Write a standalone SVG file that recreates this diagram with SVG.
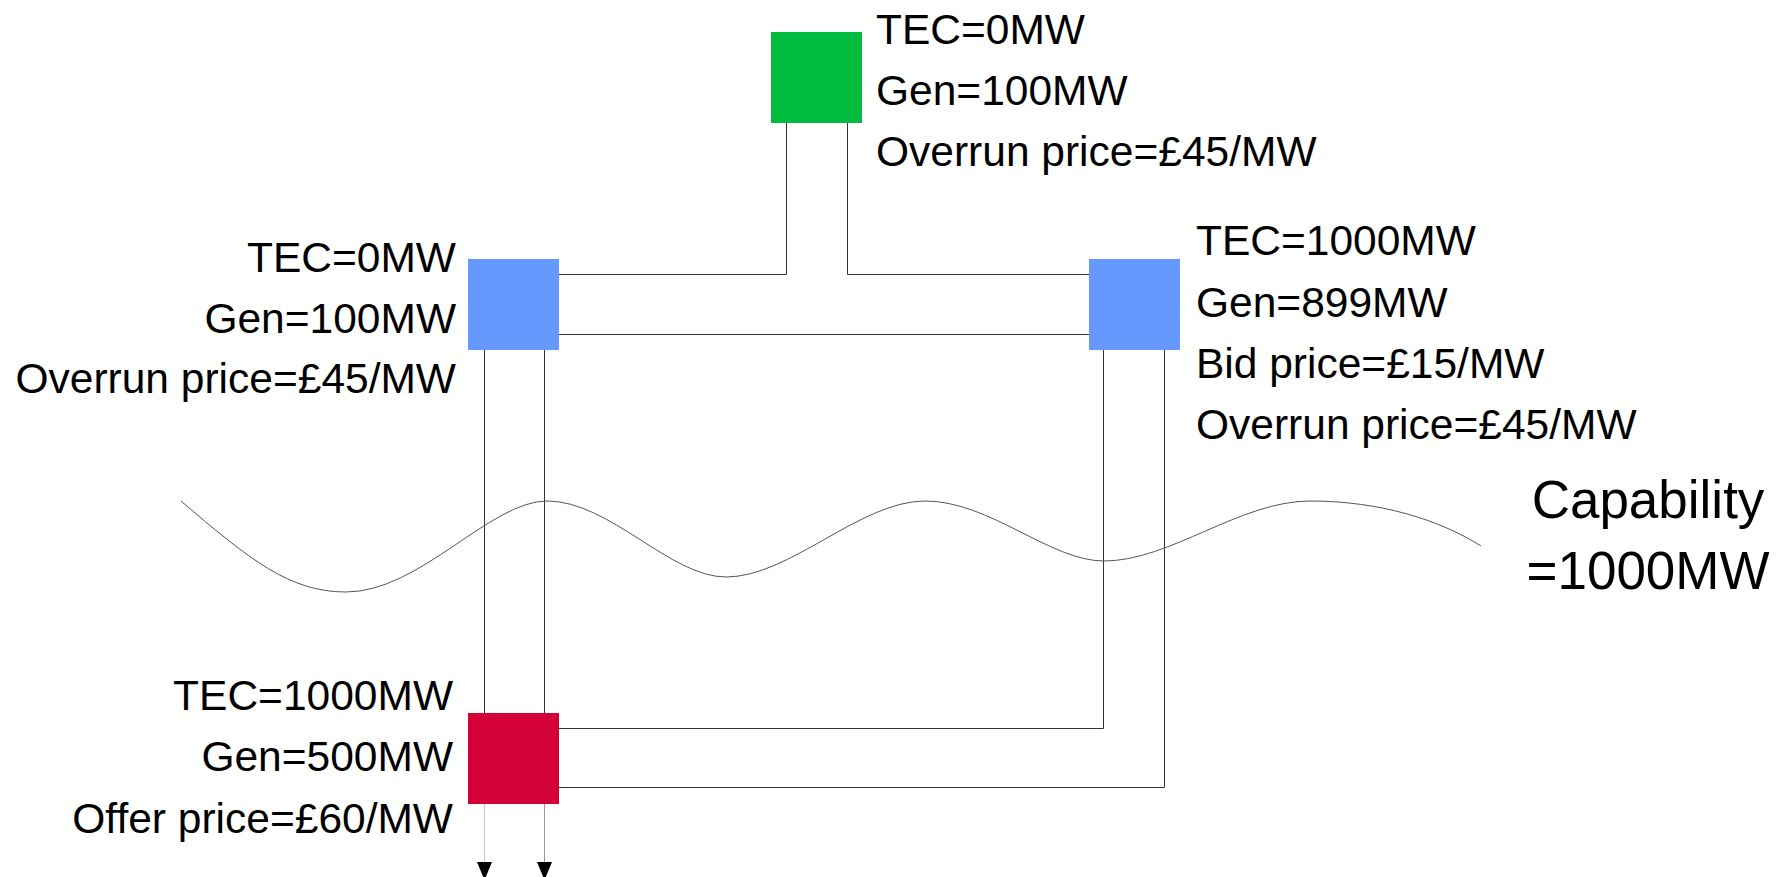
<svg xmlns="http://www.w3.org/2000/svg" width="1782" height="877" viewBox="0 0 1782 877">
<style>
.t{font-family:"Liberation Sans",Arial,sans-serif;font-size:42.5px;fill:#000}
.big{font-family:"Liberation Sans",Arial,sans-serif;font-size:53px;fill:#000}
.ln{fill:none;stroke:#333;stroke-width:1}
.end{text-anchor:end}
.mid{text-anchor:middle}
</style>
<rect width="1782" height="877" fill="#fff"/>
<g id="connectors">
<polyline class="ln" points="786.5,122 786.5,274.5 559,274.5"/>
<polyline class="ln" points="847.5,122 847.5,274.5 1089,274.5"/>
<line class="ln" x1="559" y1="334.5" x2="1089" y2="334.5"/>
<line class="ln" x1="484.5" y1="350" x2="484.5" y2="713"/>
<line class="ln" x1="544.5" y1="350" x2="544.5" y2="713"/>
<polyline class="ln" points="1103.5,350 1103.5,728.5 559,728.5"/>
<polyline class="ln" points="1164.5,350 1164.5,787.5 559,787.5"/>
<line x1="484.5" y1="804" x2="484.5" y2="864" stroke="#c8c8c8" stroke-width="1"/>
<line x1="544.5" y1="804" x2="544.5" y2="864" stroke="#999" stroke-width="1"/>
<polygon points="477,862 492,862 484.5,880" fill="#000"/>
<polygon points="537,862 552,862 544.5,880" fill="#000"/>
</g>
<g id="boundary">
<path d="M181,501 C250,560 290,592 346,592 C420,592 490,501 547,501 C610,501 670,577 726,577 C790,577 860,501 925,501 C990,501 1050,561 1104,561 C1170,561 1240,501 1310,501 C1380,501 1440,520 1481,546" fill="none" stroke="#555" stroke-width="1"/>
<text class="big mid" x="1648" y="518">Capability</text>
<text class="big mid" x="1648" y="589">=1000MW</text>
</g>
<g id="node-green">
<rect x="771" y="32" width="91" height="91" fill="#00BB3D"/>
<text class="t" x="876" y="44">TEC=0MW</text>
<text class="t" x="876" y="104.5">Gen=100MW</text>
<text class="t" x="876" y="165.5">Overrun price=£45/MW</text>
</g>
<g id="node-blue-left">
<rect x="468" y="259" width="91" height="91" fill="#6699FF"/>
<text class="t end" x="456" y="272">TEC=0MW</text>
<text class="t end" x="456" y="332.5">Gen=100MW</text>
<text class="t end" x="456" y="393">Overrun price=£45/MW</text>
</g>
<g id="node-blue-right">
<rect x="1089" y="259" width="91" height="91" fill="#6699FF"/>
<text class="t" x="1196" y="254.5">TEC=1000MW</text>
<text class="t" x="1196" y="316.5">Gen=899MW</text>
<text class="t" x="1196" y="377.5">Bid price=£15/MW</text>
<text class="t" x="1196" y="438.5">Overrun price=£45/MW</text>
</g>
<g id="node-red">
<rect x="468" y="713" width="91" height="91" fill="#D40038"/>
<text class="t end" x="453" y="709.5">TEC=1000MW</text>
<text class="t end" x="453" y="771">Gen=500MW</text>
<text class="t end" x="453" y="832.5">Offer price=£60/MW</text>
</g>
</svg>
